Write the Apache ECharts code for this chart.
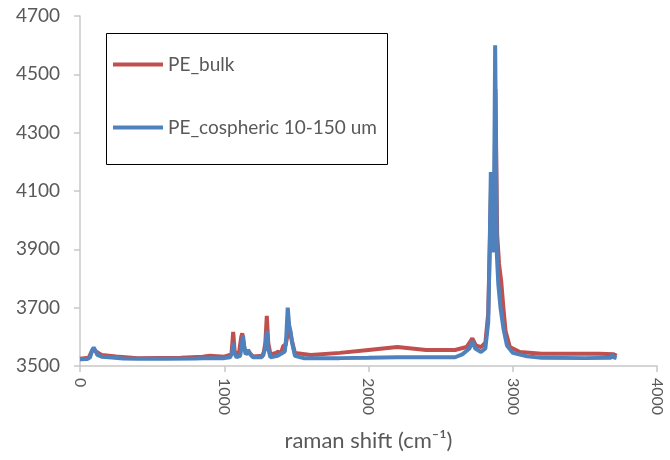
<!DOCTYPE html>
<html>
<head>
<meta charset="utf-8">
<script src="https://cdn.jsdelivr.net/npm/echarts@6/dist/echarts.min.js"></script>
<style>
	body { margin: 0; background: #fff; }
	#chart { width: 670px; height: 460px; }
</style>
</head>
<body>
<div id="chart"></div>
<script type="text/javascript">
	// spectra (raman shift / intensity)
	var bulkShift = [0, 60, 85, 95, 110, 150, 250, 400, 700, 850, 900, 1000, 1050, 1062, 1072, 1100, 1118, 1125, 1135, 1150, 1170, 1185, 1200, 1270, 1285, 1295, 1305, 1320, 1360, 1375, 1390, 1410, 1425, 1440, 1455, 1470, 1490, 1600, 1800, 2000, 2100, 2200, 2300, 2400, 2500, 2600, 2680, 2720, 2745, 2780, 2810, 2830, 2840, 2850, 2860, 2870, 2880, 2892, 2905, 2920, 2935, 2950, 2980, 3050, 3200, 3400, 3600, 3700, 3720];
	var bulkIntensity = [3525, 3528, 3555, 3560, 3550, 3538, 3533, 3527, 3528, 3532, 3535, 3532, 3540, 3617, 3550, 3537, 3600, 3612, 3570, 3540, 3550, 3540, 3533, 3535, 3580, 3672, 3580, 3540, 3545, 3550, 3540, 3570, 3570, 3610, 3620, 3585, 3545, 3538, 3545, 3555, 3560, 3565, 3560, 3555, 3555, 3555, 3565, 3595, 3570, 3565, 3580, 3680, 3900, 4120, 3950, 3900, 4450, 3950, 3850, 3790, 3700, 3620, 3565, 3548, 3542, 3542, 3542, 3540, 3535];

	var sphereShift = [0, 50, 70, 85, 95, 105, 120, 150, 200, 300, 400, 600, 800, 900, 1000, 1040, 1055, 1063, 1070, 1085, 1110, 1122, 1130, 1138, 1150, 1165, 1172, 1180, 1200, 1260, 1285, 1295, 1305, 1320, 1370, 1380, 1420, 1430, 1440, 1450, 1460, 1470, 1490, 1550, 1800, 2000, 2200, 2400, 2600, 2650, 2700, 2720, 2740, 2780, 2810, 2830, 2840, 2848, 2858, 2868, 2878, 2890, 2900, 2915, 2935, 2960, 3000, 3100, 3200, 3500, 3680, 3690, 3700, 3720];
	var sphereIntensity = [3523, 3524, 3530, 3555, 3563, 3555, 3538, 3532, 3530, 3526, 3525, 3525, 3526, 3527, 3527, 3530, 3545, 3580, 3545, 3530, 3535, 3570, 3605, 3570, 3540, 3555, 3558, 3540, 3530, 3530, 3560, 3620, 3560, 3530, 3535, 3533, 3550, 3600, 3700, 3640, 3618, 3580, 3535, 3527, 3527, 3528, 3530, 3530, 3530, 3540, 3560, 3585, 3560, 3548, 3560, 3650, 3900, 4165, 3950, 3890, 4600, 3880, 3780, 3700, 3630, 3570, 3545, 3533, 3528, 3527, 3528, 3538, 3530, 3527];

	var seriesNames = ['PE_bulk', 'PE_cospheric 10-150 um'];

	function pairs(xs, ys) {
		var out = [];
		for (var i = 0; i < xs.length; i++) {
			out.push([xs[i], ys[i]]);
		}
		return out;
	}

	function plain(v) { // no thousand separators
		return String(v);
	}

	var chart = echarts.init(document.getElementById('chart'), null, {
		renderer: 'canvas'
	});

	var font = 'Lato';
	var grey = '#595959';
	var axisGrey = '#c8c8c8';

	chart.setOption({
		animation: false,
		textStyle: { fontFamily: font },
		grid: { left: 80, right: 13, top: 16, bottom: 94 },
		graphic: [{
			type: 'rect',
			shape: { x: 106.5, y: 33.5, width: 281, height: 131 },
			style: { fill: '#fff', stroke: '#000', lineWidth: 1 },
			z: 10
		}],
		legend: {
			orient: 'vertical',
			left: 106,
			top: 33,
			padding: [22, 10, 22, 7],
			itemGap: 44,
			itemWidth: 50,
			itemHeight: 4,
			itemTextGap: 4,
			icon: 'rect',
			z: 20,
			textStyle: { fontFamily: font, fontSize: 19, color: grey },
			data: seriesNames
		},
		xAxis: {
			type: 'value',
			min: 0,
			max: 4000,
			interval: 1000,
			name: 'raman shift (cm⁻¹)',
			nameLocation: 'middle',
			nameGap: 64,
			nameTextStyle: { fontFamily: font, fontSize: 22, color: grey },
			axisLine: { show: true, lineStyle: { color: axisGrey, width: 1.5 } },
			axisTick: { show: true, length: 6, lineStyle: { color: axisGrey, width: 1.5 } },
			axisLabel: { rotate: -90, margin: 12, fontSize: 16, color: grey, fontFamily: font, formatter: plain },
			splitLine: { show: false }
		},
		yAxis: {
			type: 'value',
			min: 3500,
			max: 4700,
			interval: 200,
			axisLine: { show: true, lineStyle: { color: axisGrey, width: 1.5 } },
			axisTick: { show: true, length: 6, lineStyle: { color: axisGrey, width: 1.5 } },
			axisLabel: { margin: 20, fontSize: 19, color: grey, fontFamily: font, formatter: plain },
			splitLine: { show: false }
		},
		series: [{
			name: seriesNames[0],
			type: 'line',
			showSymbol: false,
			symbol: 'none',
			color: '#C0504D',
			lineStyle: { width: 4, color: '#C0504D' },
			data: pairs(bulkShift, bulkIntensity)
		}, {
			name: seriesNames[1],
			type: 'line',
			showSymbol: false,
			symbol: 'none',
			color: '#4F81BD',
			lineStyle: { width: 4, color: '#4F81BD' },
			data: pairs(sphereShift, sphereIntensity)
		}]
	});
</script>
</body>
</html>
